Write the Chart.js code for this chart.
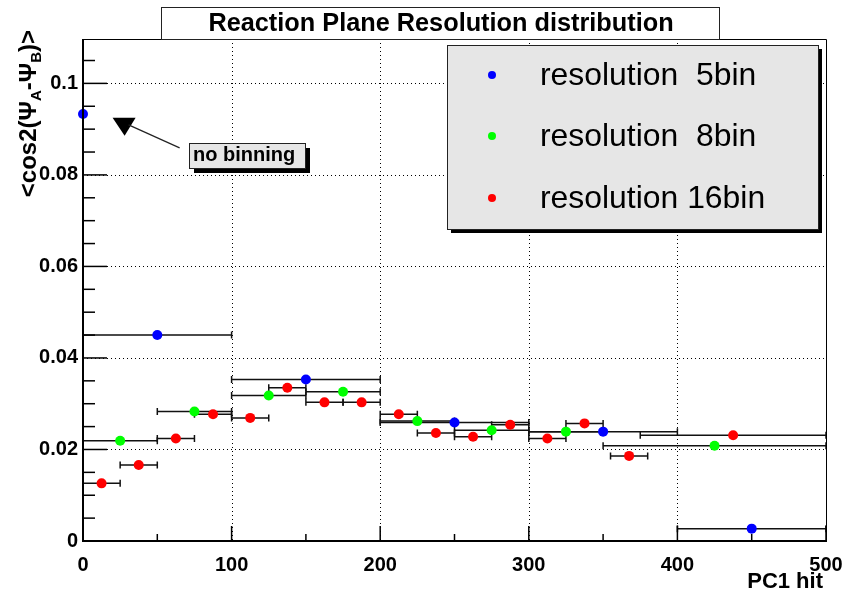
<!DOCTYPE html>
<html>
<head>
<meta charset="utf-8">
<script src="https://cdn.jsdelivr.net/npm/chart.js@4/dist/chart.umd.min.js"></script>
<style>
  html, body { margin: 0; padding: 0; background: #fff; }
</style>
</head>
<body>
<canvas id="myChart" width="845" height="592"></canvas>
<script>
// 5 bins (blue)
const res5X  = [50, 150, 250, 350, 450];
const res5Y  = [0.0450, 0.0353, 0.0259, 0.0239, 0.0027];
const res5Lo = [0, 100, 200, 300, 400];
const res5Hi = [100, 200, 300, 400, 500];

// 8 bins (green)
const res8X  = [25, 75, 125, 175, 225, 275, 325, 425];
const res8Y  = [0.0219, 0.0283, 0.0318, 0.0326, 0.0262, 0.0242, 0.0239, 0.0208];
const res8Lo = [0, 50, 100, 150, 200, 250, 300, 350];
const res8Hi = [50, 100, 150, 200, 250, 300, 350, 500];

// 16 bins (red)
const res16X  = [12.5, 37.5, 62.5, 87.5, 112.5, 137.5, 162.5, 187.5, 212.5, 237.5, 262.5, 287.5, 312.5, 337.5, 367.5, 437.5];
const res16Y  = [0.0126, 0.0166, 0.0224, 0.0277, 0.0269, 0.0335, 0.0303, 0.0303, 0.0277, 0.0236, 0.0228, 0.0254, 0.0224, 0.0257, 0.0186, 0.0231];
const res16Lo = [0, 25, 50, 75, 100, 125, 150, 175, 200, 225, 250, 275, 300, 325, 355, 375];
const res16Hi = [25, 50, 75, 100, 125, 150, 175, 200, 225, 250, 275, 300, 325, 350, 380, 500];

// single point without binning
const noBinX = [0];
const noBinY = [0.0933];

const seriesLabels = ['resolution  5bin', 'resolution  8bin', 'resolution 16bin'];
const xTickVals = [0, 100, 200, 300, 400, 500];
const xTickLabels = ['0', '100', '200', '300', '400', '500'];
const yTickVals = [0, 0.02, 0.04, 0.06, 0.08, 0.1];
const yTickLabels = ['0', '0.02', '0.04', '0.06', '0.08', '0.1'];

const FONT = '"Liberation Sans", Arial, Helvetica, sans-serif';

function pts(xs, ys, lo, hi) {
  return xs.map(function(x, i) {
    return { x: x, y: ys[i], lo: lo ? lo[i] : x, hi: hi ? hi[i] : x };
  });
}

function fitSize(ctx, text, weight, target) {
  ctx.font = weight + ' 20px ' + FONT;
  return 20 * target / ctx.measureText(text).width;
}

function shadowBox(ctx, x, y, w, h, fill, off) {
  if (off) {
    ctx.fillStyle = '#000';
    ctx.fillRect(x + off, y + off, w, h);
  }
  ctx.fillStyle = fill;
  ctx.fillRect(x, y, w, h);
  ctx.strokeStyle = '#222';
  ctx.lineWidth = 1;
  ctx.strokeRect(x + 0.5, y + 0.5, w, h);
}

const rootPlugin = {
  id: 'rootStyle',
  beforeDatasetsDraw(chart) {
    const ctx = chart.ctx, xs = chart.scales.x, ys = chart.scales.y, a = chart.chartArea;
    ctx.save();
    // dotted grid
    ctx.strokeStyle = '#000';
    ctx.lineWidth = 1;
    ctx.setLineDash([1, 3]);
    xTickVals.forEach(function(v) {
      if (v === 0 || v === 500) return;
      const px = Math.round(xs.getPixelForValue(v)) + 0.5;
      ctx.beginPath(); ctx.moveTo(px, a.top); ctx.lineTo(px, a.bottom); ctx.stroke();
    });
    yTickVals.forEach(function(v) {
      if (v === 0) return;
      const py = Math.round(ys.getPixelForValue(v)) + 0.5;
      ctx.beginPath(); ctx.moveTo(a.left, py); ctx.lineTo(a.right, py); ctx.stroke();
    });
    ctx.setLineDash([]);
    // horizontal error bars
    ctx.lineWidth = 1.5;
    ctx.strokeStyle = '#111';
    chart.data.datasets.forEach(function(ds) {
      ds.data.forEach(function(p) {
        if (p.lo === p.hi) return;
        const y = ys.getPixelForValue(p.y);
        const x1 = xs.getPixelForValue(p.lo), x2 = xs.getPixelForValue(p.hi);
        ctx.beginPath();
        ctx.moveTo(x1, y); ctx.lineTo(x2, y);
        ctx.moveTo(x1, y - 3.5); ctx.lineTo(x1, y + 3.5);
        ctx.moveTo(x2, y - 3.5); ctx.lineTo(x2, y + 3.5);
        ctx.stroke();
      });
    });
    ctx.restore();
  },
  afterDraw(chart) {
    const ctx = chart.ctx, xs = chart.scales.x, ys = chart.scales.y, a = chart.chartArea;
    ctx.save();
    // frame
    ctx.strokeStyle = '#000';
    ctx.lineWidth = 1;
    ctx.beginPath();
    ctx.moveTo(a.left, a.top + 0.5); ctx.lineTo(a.right + 0.5, a.top + 0.5); ctx.lineTo(a.right + 0.5, a.bottom);
    ctx.stroke();
    ctx.lineWidth = 2;
    ctx.beginPath();
    ctx.moveTo(a.left, a.top); ctx.lineTo(a.left, a.bottom); ctx.lineTo(a.right + 1, a.bottom);
    ctx.stroke();
    // ticks (inside)
    ctx.lineWidth = 1.5;
    for (let v = 0; v <= 0.1051; v += 0.005) {
      const py = ys.getPixelForValue(v);
      const major = Math.abs(v / 0.02 - Math.round(v / 0.02)) < 1e-6;
      ctx.beginPath(); ctx.moveTo(a.left, py); ctx.lineTo(a.left + (major ? 24 : 12), py); ctx.stroke();
    }
    for (let v = 0; v <= 500; v += 50) {
      const px = xs.getPixelForValue(v);
      const major = v % 100 === 0;
      ctx.beginPath(); ctx.moveTo(px, a.bottom); ctx.lineTo(px, a.bottom - (major ? 15 : 7)); ctx.stroke();
    }

    // title box
    const title = 'Reaction Plane Resolution distribution';
    shadowBox(ctx, 161, 7, 558, 32, '#fff', 0);
    ctx.fillStyle = '#000';
    ctx.font = 'bold ' + fitSize(ctx, title, 'bold', 466).toFixed(1) + 'px ' + FONT;
    ctx.textAlign = 'center'; ctx.textBaseline = 'middle';
    ctx.fillText(title, 441, 24);

    // y axis title, rotated, right aligned at top
    const parts = [['<cos2(\u03A8', 0], ['A', 1], ['-\u03A8', 0], ['B', 1], [')>', 0]];
    const mainPx = 24, subPx = 15;
    let total = 0;
    parts.forEach(function(p) {
      ctx.font = 'bold ' + (p[1] ? subPx : mainPx) + 'px ' + FONT;
      total += ctx.measureText(p[0]).width;
    });
    ctx.translate(36, 30 + total);
    ctx.rotate(-Math.PI / 2);
    ctx.textAlign = 'left'; ctx.textBaseline = 'alphabetic';
    let cx = 0;
    parts.forEach(function(p) {
      ctx.font = 'bold ' + (p[1] ? subPx : mainPx) + 'px ' + FONT;
      ctx.fillText(p[0], cx, p[1] ? 5 : 0);
      cx += ctx.measureText(p[0]).width;
    });
    ctx.setTransform(1, 0, 0, 1, 0, 0);

    // x axis title
    ctx.font = 'bold 22px ' + FONT;
    ctx.textAlign = 'right'; ctx.textBaseline = 'alphabetic';
    ctx.fillText('PC1 hit', 823, 588);

    // annotation: no binning
    const ax = xs.getPixelForValue(28), ay = ys.getPixelForValue(0.0905);
    ctx.fillStyle = '#000';
    ctx.beginPath();
    ctx.moveTo(ax - 12, ay - 9); ctx.lineTo(ax + 11, ay - 9); ctx.lineTo(ax, ay + 9); ctx.closePath();
    ctx.fill();
    ctx.lineWidth = 1.2;
    ctx.beginPath(); ctx.moveTo(ax + 4, ay - 2); ctx.lineTo(ax + 55, ay + 21); ctx.stroke();
    shadowBox(ctx, 189, 143, 116, 25, '#e6e6e6', 5);
    ctx.fillStyle = '#000';
    ctx.font = 'bold ' + fitSize(ctx, 'no binning', 'bold', 102).toFixed(1) + 'px ' + FONT;
    ctx.textAlign = 'left'; ctx.textBaseline = 'middle';
    ctx.fillText('no binning', 193, 155);

    // legend
    shadowBox(ctx, 447, 45, 371, 184, '#e6e6e6', 4);
    const legSize = fitSize(ctx, seriesLabels[2], 'normal', 225);
    const rows = [75, 136, 198];
    chart.data.datasets.slice(0, 3).forEach(function(ds, i) {
      ctx.fillStyle = ds.backgroundColor;
      ctx.beginPath(); ctx.arc(492, rows[i], 4, 0, Math.PI * 2); ctx.fill();
      ctx.fillStyle = '#000';
      ctx.font = legSize.toFixed(1) + 'px ' + FONT;
      ctx.textAlign = 'left'; ctx.textBaseline = 'middle';
      ctx.fillText(ds.label, 540, rows[i] + 1);
    });
    ctx.restore();
  }
};

new Chart('myChart', {
  type: 'scatter',
  data: {
    datasets: [
      { label: seriesLabels[0], data: pts(res5X, res5Y, res5Lo, res5Hi), backgroundColor: '#0000ff' },
      { label: seriesLabels[1], data: pts(res8X, res8Y, res8Lo, res8Hi), backgroundColor: '#00ff00' },
      { label: seriesLabels[2], data: pts(res16X, res16Y, res16Lo, res16Hi), backgroundColor: '#ff0000' },
      { label: 'no binning', data: pts(noBinX, noBinY), backgroundColor: '#0000ff' }
    ]
  },
  options: {
    responsive: false,
    animation: false,
    datasets: { scatter: { pointRadius: 5, pointBorderWidth: 0, borderWidth: 0, clip: false } },
    layout: { padding: { left: 0, right: 19, top: 39, bottom: 0 } },
    plugins: { legend: { display: false }, tooltip: { enabled: false }, title: { display: false } },
    scales: {
      x: {
        type: 'linear', min: 0, max: 500,
        afterBuildTicks: function(s) { s.ticks = xTickVals.map(function(v) { return { value: v }; }); },
        afterFit: function(s) { s.height = 51; s.paddingLeft = 0; s.paddingRight = 0; },
        grid: { display: false, drawTicks: false },
        border: { display: false },
        ticks: {
          padding: 12, color: '#000', maxRotation: 0, autoSkip: false,
          font: { family: FONT, size: 20, weight: 'bold' },
          callback: function(v, i) { return xTickLabels[i]; }
        }
      },
      y: {
        type: 'linear', min: 0, max: 0.1097,
        afterBuildTicks: function(s) { s.ticks = yTickVals.map(function(v) { return { value: v }; }); },
        afterFit: function(s) { s.width = 83; s.paddingTop = 0; s.paddingBottom = 0; },
        grid: { display: false, drawTicks: false },
        border: { display: false },
        ticks: {
          padding: 5, color: '#000', autoSkip: false,
          font: { family: FONT, size: 20, weight: 'bold' },
          callback: function(v, i) { return yTickLabels[i]; }
        }
      }
    }
  },
  plugins: [rootPlugin]
});
</script>
</body>
</html>
